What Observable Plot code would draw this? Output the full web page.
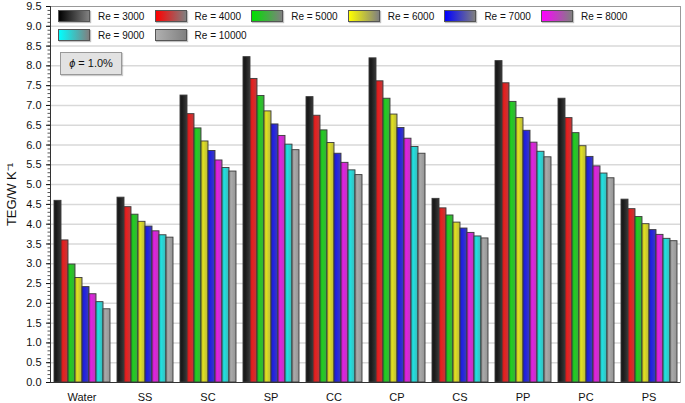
<!DOCTYPE html>
<html><head><meta charset="utf-8">
<script src="https://cdn.jsdelivr.net/npm/d3@7"></script>
<script src="https://cdn.jsdelivr.net/npm/@observablehq/plot@0.6"></script>
<style>
body{margin:0;background:#fff;font-family:"Liberation Sans",Arial,sans-serif;}
#wrap{position:relative;width:685px;height:403px;overflow:hidden;}
#legend{position:absolute;left:58px;top:10px;width:620px;font-size:10px;color:#111;}
.item{position:absolute;display:flex;align-items:center;height:12px;}
.sw{width:30px;height:10px;border:1px solid #555;box-shadow:1px 1px 1px rgba(0,0,0,0.25);margin-right:8px;}
#phi{position:absolute;left:60px;top:52px;width:60px;height:21px;background:#e2e2e2;border:1px solid #999;box-shadow:1px 1px 1px rgba(0,0,0,0.2);font-size:11px;line-height:21px;text-align:center;color:#111;}
</style></head><body>
<div id="wrap"></div>
<script>
const categories = ["Water","SS","SC","SP","CC","CP","CS","PP","PC","PS"];
const reynolds = [3000,4000,5000,6000,7000,8000,9000,10000];
const seriesColors = ["#1c1c1c","#e42020","#22cc22","#dede22","#2222e0","#de22de","#22dede","#a8a8a8"];
const legendColors = ["#000000","#ff0000","#00e000","#ffff00","#0000ff","#ff00ff","#00ffff","#b0b0b0"];
const water = [4.59,3.59,2.98,2.64,2.41,2.23,2.03,1.85];
const ss    = [4.67,4.43,4.24,4.06,3.94,3.82,3.72,3.66];
const sc    = [7.25,6.78,6.42,6.09,5.85,5.61,5.42,5.33];
const sp    = [8.22,7.67,7.24,6.85,6.52,6.23,6.01,5.87];
const cc    = [7.21,6.74,6.37,6.05,5.78,5.55,5.36,5.24];
const cp    = [8.19,7.61,7.17,6.77,6.43,6.16,5.95,5.78];
const cs    = [4.64,4.40,4.22,4.04,3.89,3.78,3.69,3.64];
const pp    = [8.12,7.56,7.09,6.68,6.36,6.06,5.83,5.69];
const pc    = [7.17,6.68,6.30,5.97,5.70,5.46,5.28,5.16];
const ps    = [4.62,4.38,4.18,4.00,3.85,3.73,3.63,3.57];
const yTicks = [0,0.5,1,1.5,2,2.5,3,3.5,4,4.5,5,5.5,6,6.5,7,7.5,8,8.5,9,9.5];
const minorTicks = d3.range(0, 96).map(i => i / 10);

const seriesByCat = [water, ss, sc, sp, cc, cp, cs, pp, pc, ps];
const rows = [];
categories.forEach((c, ci) => reynolds.forEach((re, ri) => rows.push({cat: c, re, v: seriesByCat[ci][ri]})));

// gradient defs
const defs = `<svg width="0" height="0" style="position:absolute"><defs>${seriesColors.map((col, i) => {
  const end = d3.interpolateRgb(col, "#707070")(0.35);
  return `<linearGradient id="g${i}" x1="0" x2="1" y1="0" y2="0"><stop offset="0" stop-color="${d3.interpolateRgb(col,"#000")(0.15)}"/><stop offset="0.35" stop-color="${col}"/><stop offset="1" stop-color="${end}"/></linearGradient>`;
}).join("")}</defs></svg>`;

const wrap = document.getElementById("wrap");
wrap.insertAdjacentHTML("beforeend", defs);

const chart = Plot.plot({
  width: 685, height: 403,
  marginLeft: 47, marginRight: 2, marginTop: 6, marginBottom: 21,
  style: {fontFamily: "'Liberation Sans', Arial, sans-serif", color: "#111", background: "transparent"},
  fx: {domain: categories, padding: 0, label: null, axis: null},
  x: {domain: reynolds, paddingInner: 0.06, paddingOuter: 0.46, axis: null},
  y: {domain: [0, 9.5], axis: null},
  color: {type: "ordinal", domain: reynolds, range: reynolds.map((_, i) => `url(#g${i})`)},
  marks: [
    Plot.gridY(yTicks.filter(t => t > 0 && t < 9.5), {stroke: "#d9d9d9", strokeOpacity: 1, strokeWidth: 1.5}),
    Plot.barY(rows, {fx: "cat", x: "re", y: "v", fill: "re", stroke: "#3a3a3a", strokeWidth: 0.9}),
    Plot.ruleY([9.5], {stroke: "#999", strokeWidth: 1}),
    Plot.frame({anchor: "right", facetAnchor: "right", stroke: "#999"}),
    Plot.frame({anchor: "left", facetAnchor: "left", stroke: "#333"}),
    Plot.ruleY([0], {stroke: "#333", strokeWidth: 1}),
    Plot.axisY({ticks: minorTicks, tickSize: 2.5, text: null, label: null, stroke: "#555"}),
    Plot.axisY({ticks: yTicks, tickFormat: d => d.toFixed(1), tickSize: 4, tickPadding: 5, fontSize: 11, label: null}),
    Plot.axisY({ticks: [], tickSize: 0, label: "TEG/W K⁻¹", labelAnchor: "center", labelArrow: "none", labelOffset: 44, fontSize: 13}),
    Plot.axisFx({anchor: "bottom", tickSize: 0, tickPadding: 11, fontSize: 11, label: null})
  ]
});
wrap.appendChild(chart);

// legend
const legend = document.createElement("div");
legend.id = "legend";
reynolds.forEach((re, i) => {
  const row = Math.floor(i / 6), col = i % 6;
  const item = document.createElement("div");
  item.className = "item";
  item.style.left = (col * 96.6) + "px";
  item.style.top = (row * 19) + "px";
  const sw = document.createElement("div");
  sw.className = "sw";
  sw.style.background = `linear-gradient(to right, ${legendColors[i]}, #808080)`;
  const t = document.createElement("span");
  t.textContent = `Re = ${re}`;
  item.appendChild(sw); item.appendChild(t);
  legend.appendChild(item);
});
wrap.appendChild(legend);

const phi = document.createElement("div");
phi.id = "phi";
phi.innerHTML = "<i>ϕ</i> = 1.0%";
wrap.appendChild(phi);
</script>
</body></html>
